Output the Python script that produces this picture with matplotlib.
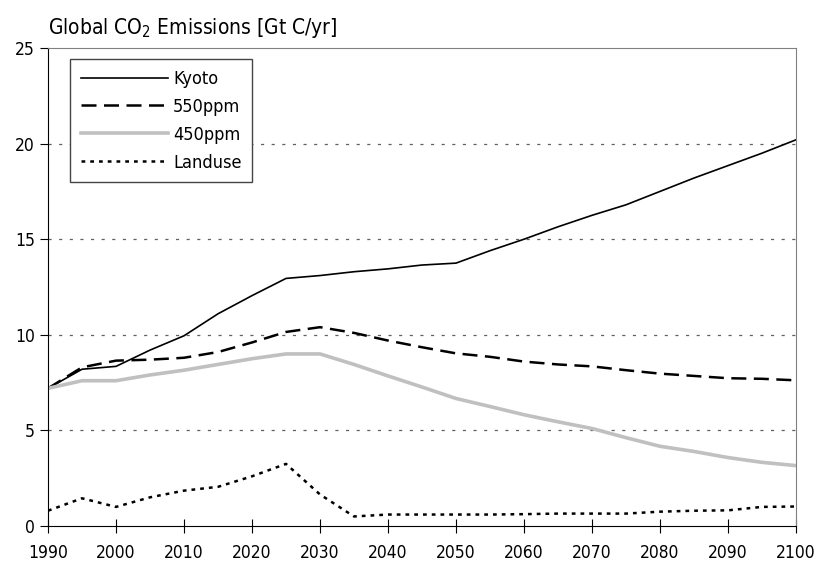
from matplotlib import pyplot as plt

# years and emissions [Gt C/yr]
years = list(range(1990, 2101, 5))
kyoto = [7.2, 8.2, 8.35, 9.2, 9.95, 11.1, 12.05, 12.95, 13.1, 13.3, 13.45,
         13.65, 13.75, 14.4, 15.0, 15.65, 16.25, 16.8, 17.5, 18.2, 18.85,
         19.5, 20.2]
ppm550 = [7.2, 8.3, 8.65, 8.7, 8.8, 9.1, 9.6, 10.15, 10.4, 10.1, 9.7, 9.35,
          9.03, 8.85, 8.6, 8.45, 8.35, 8.15, 7.97, 7.85, 7.73, 7.7, 7.62]
ppm450 = [7.2, 7.6, 7.6, 7.9, 8.15, 8.45, 8.75, 9.0, 9.0, 8.45, 7.85, 7.27,
          6.67, 6.25, 5.82, 5.45, 5.1, 4.62, 4.17, 3.9, 3.58, 3.33, 3.16]
landuse = [0.8, 1.45, 1.0, 1.5, 1.85, 2.05, 2.6, 3.25, 1.65, 0.5, 0.6, 0.6,
           0.6, 0.6, 0.62, 0.65, 0.65, 0.65, 0.75, 0.8, 0.82, 1.0, 1.02]

x_ticks = list(range(1990, 2101, 10))
y_ticks = [0, 5, 10, 15, 20, 25]

# condensed face to get close to the narrow font of the original
plt.rcParams['font.family'] = ['DejaVu Sans']
plt.rcParams['font.stretch'] = 'condensed'

fig = plt.figure(figsize=(8.18, 5.65), dpi=100)
ax = fig.add_axes([0.0587, 0.069, 0.9144, 0.846])

# dotted grid lines
for yv in y_ticks[1:-1]:
    ax.axhline(yv, color='#606060', lw=0.9, ls=(0, (2.5, 6)), zorder=0)

ax.plot(years, kyoto, color='black', lw=1.2, label='Kyoto')
ax.plot(years, ppm550, color='black', lw=1.8, ls=(0, (6, 3)),
        label='550ppm')
ax.plot(years, ppm450, color='#c0c0c0', lw=2.6, label='450ppm')
ax.plot(years, landuse, color='black', lw=1.8, ls=(0, (1.5, 2)),
        label='Landuse')

ax.set_xlim(1990, 2100)
ax.set_ylim(0, 25)
ax.set_xticks(x_ticks)
ax.set_yticks(y_ticks)
ax.tick_params(axis='x', direction='inout', length=10, labelsize=12.5,
               pad=8)
ax.tick_params(axis='y', direction='out', length=6, labelsize=12.5)

for side in ['top', 'right']:
    ax.spines[side].set_color('#808080')
for side in ['left', 'bottom']:
    ax.spines[side].set_color('black')

leg = ax.legend(loc='upper left', bbox_to_anchor=(0.0294, 0.977),
                borderaxespad=0, fontsize=13, handlelength=4.8,
                handletextpad=0.3, labelspacing=0.55, borderpad=0.6,
                fancybox=False, framealpha=1)
leg.get_frame().set_edgecolor('#444444')
leg.get_frame().set_linewidth(1.0)

fig.text(0.0587, 0.93, 'Global CO$_2$ Emissions [Gt C/yr]', fontsize=15,
         ha='left', va='bottom')

fig.savefig('out.png', dpi=100)
